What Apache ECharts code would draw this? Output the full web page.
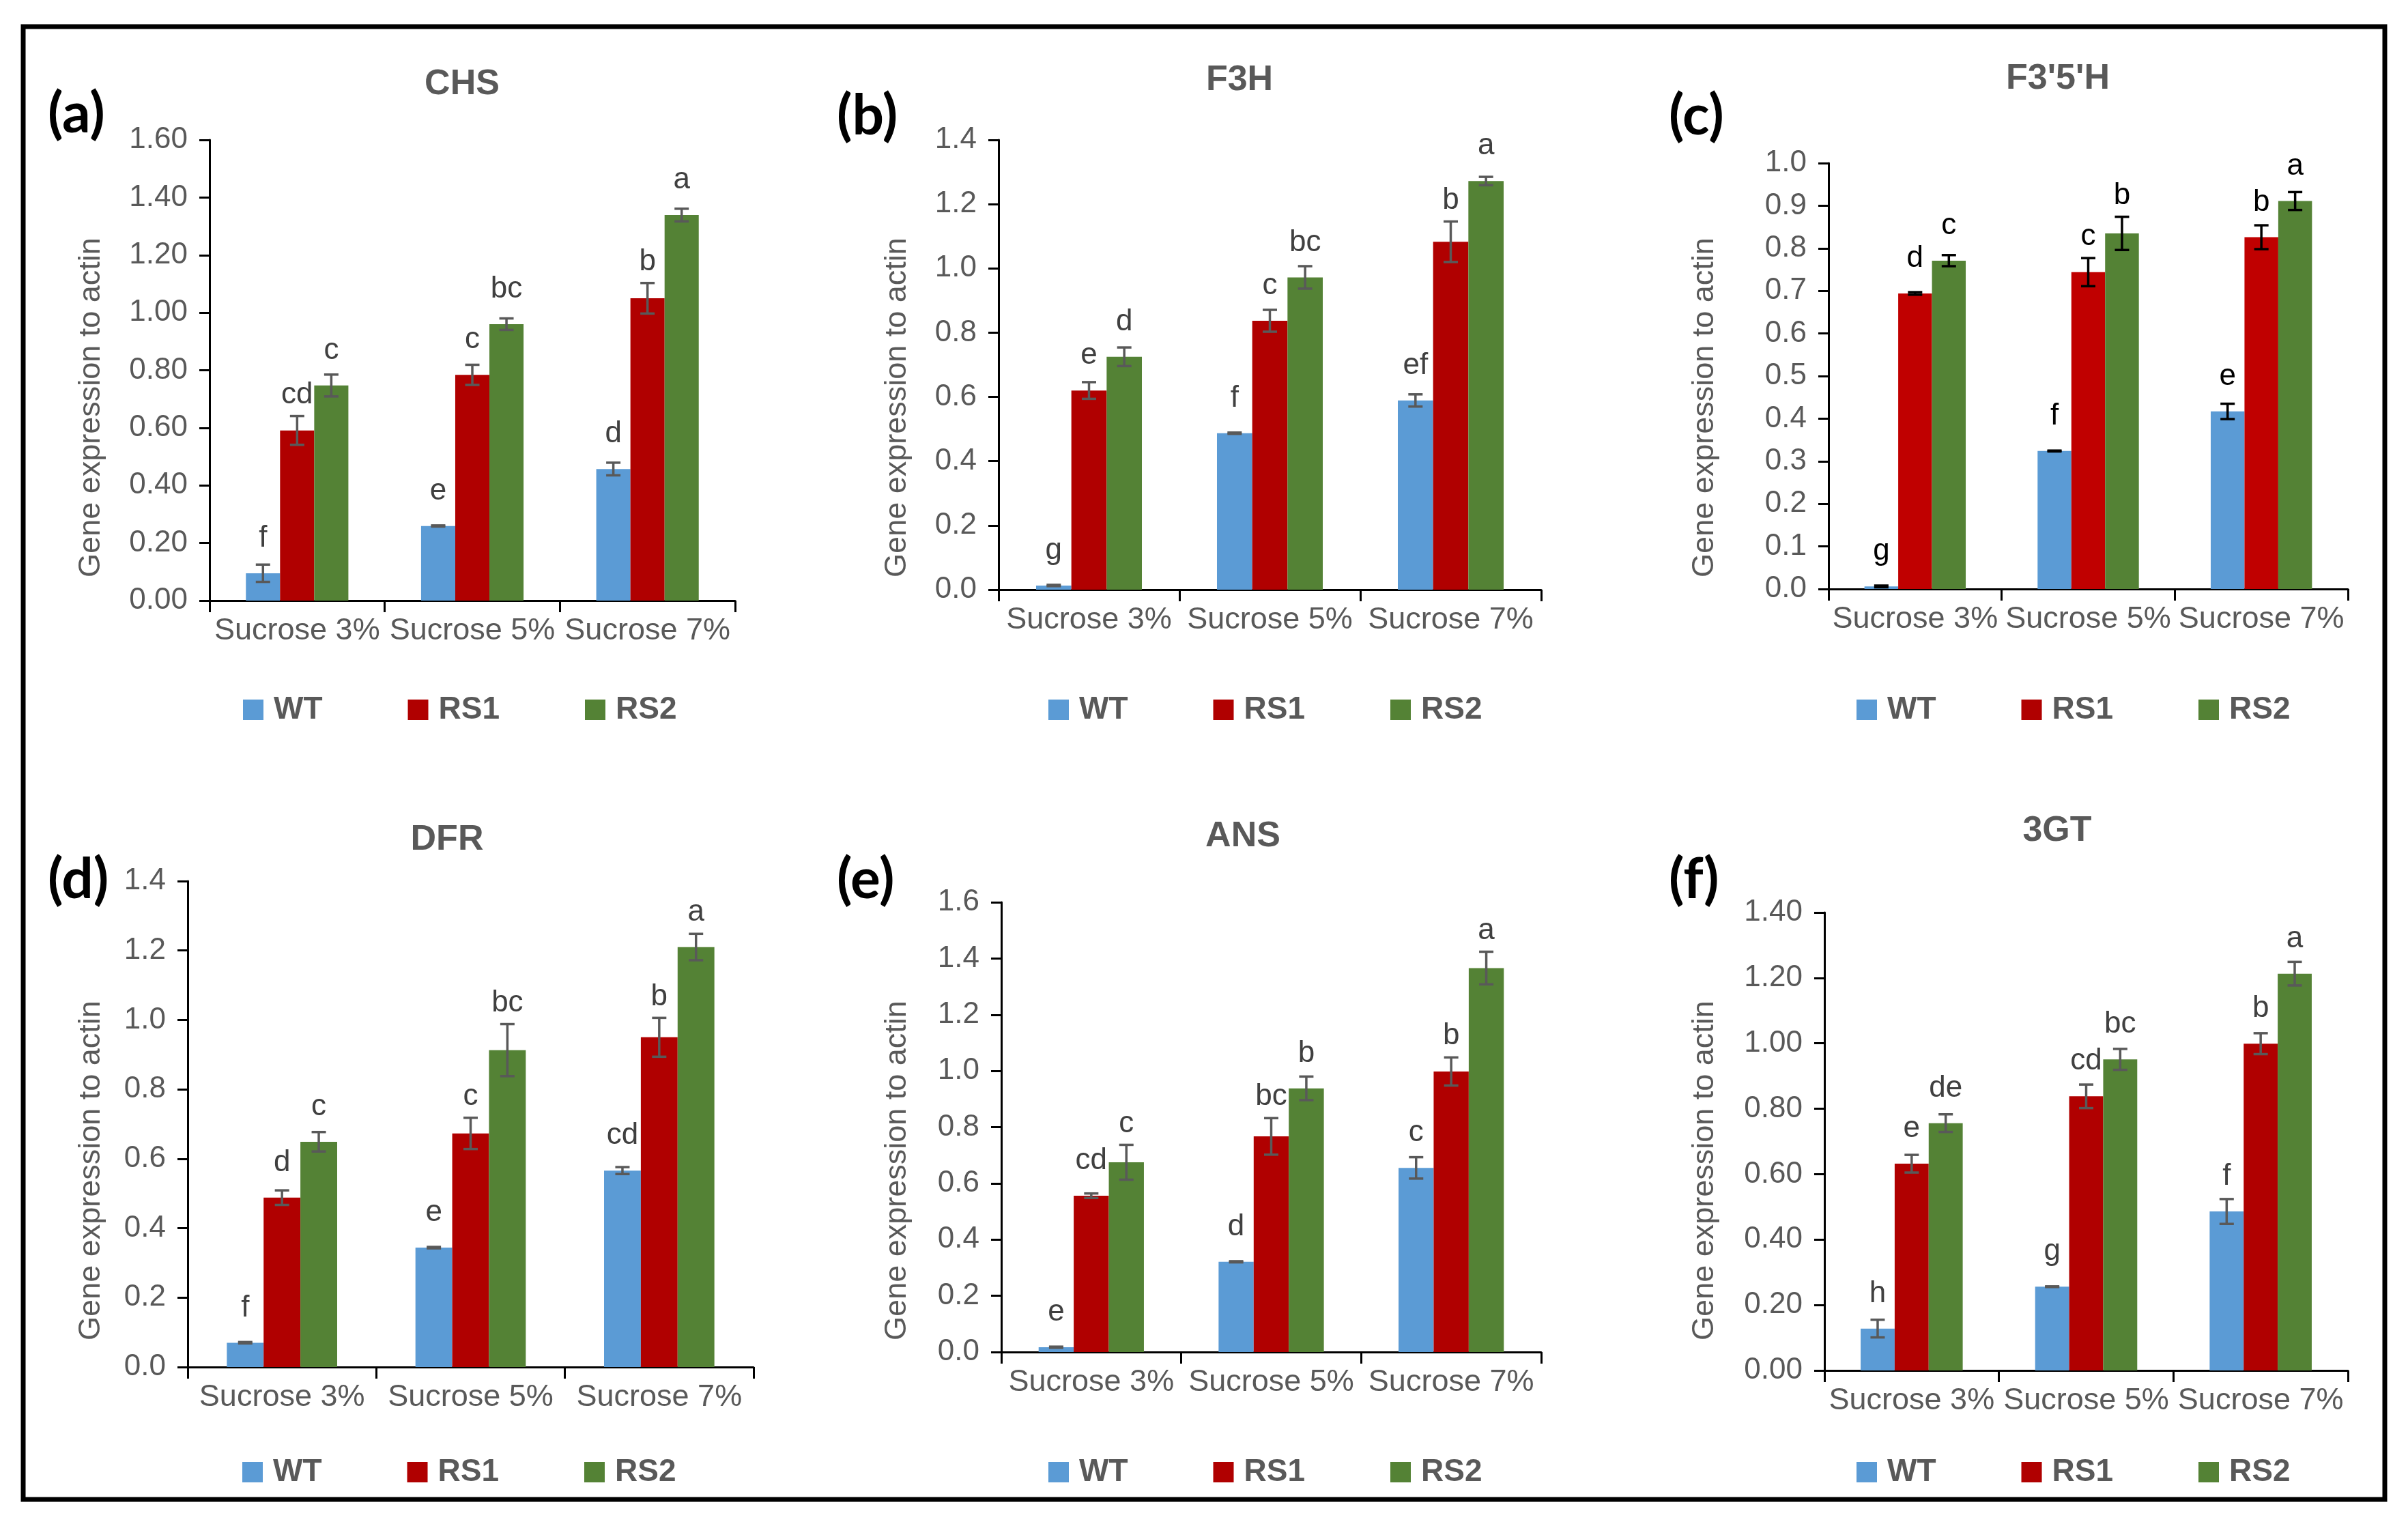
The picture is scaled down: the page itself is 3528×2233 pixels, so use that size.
<!DOCTYPE html>
<html><head><meta charset="utf-8">
<script src="https://cdn.jsdelivr.net/npm/echarts@6/dist/echarts.min.js"></script>
<style>html,body{margin:0;padding:0;background:#fff}#c{width:3528px;height:2233px}</style>
</head><body><div id="c"></div>
<script>
// ---------- DATA ----------
const categories = ['Sucrose 3%', 'Sucrose 5%', 'Sucrose 7%'];
const seriesNames = ['WT', 'RS1', 'RS2'];

// (a) CHS
const chsWT = [0.095, 0.259, 0.457];
const chsRS1 = [0.591, 0.784, 1.050];
const chsRS2 = [0.747, 0.960, 1.339];
const chsErrWT = [0.030, 0.002, 0.022];
const chsErrRS1 = [0.050, 0.035, 0.053];
const chsErrRS2 = [0.038, 0.020, 0.022];
const chsLetWT = ['f', 'e', 'd'];
const chsLetRS1 = ['cd', 'c', 'b'];
const chsLetRS2 = ['c', 'bc', 'a'];

// (b) F3H
const f3hWT = [0.013, 0.487, 0.589];
const f3hRS1 = [0.620, 0.837, 1.083];
const f3hRS2 = [0.725, 0.972, 1.272];
const f3hErrWT = [0.002, 0.002, 0.019];
const f3hErrRS1 = [0.026, 0.034, 0.063];
const f3hErrRS2 = [0.029, 0.035, 0.013];
const f3hLetWT = ['g', 'f', 'ef'];
const f3hLetRS1 = ['e', 'c', 'b'];
const f3hLetRS2 = ['d', 'bc', 'a'];

// (c) F3'5'H
const f35hWT = [0.006, 0.324, 0.417];
const f35hRS1 = [0.694, 0.744, 0.826];
const f35hRS2 = [0.771, 0.835, 0.911];
const f35hErrWT = [0.002, 0.001, 0.018];
const f35hErrRS1 = [0.003, 0.033, 0.028];
const f35hErrRS2 = [0.013, 0.039, 0.021];
const f35hLetWT = ['g', 'f', 'e'];
const f35hLetRS1 = ['d', 'c', 'b'];
const f35hLetRS2 = ['c', 'b', 'a'];

// (d) DFR
const dfrWT = [0.070, 0.344, 0.566];
const dfrRS1 = [0.488, 0.673, 0.950];
const dfrRS2 = [0.649, 0.913, 1.210];
const dfrErrWT = [0.002, 0.002, 0.010];
const dfrErrRS1 = [0.021, 0.045, 0.056];
const dfrErrRS2 = [0.028, 0.075, 0.038];
const dfrLetWT = ['f', 'e', 'cd'];
const dfrLetRS1 = ['d', 'c', 'b'];
const dfrLetRS2 = ['c', 'bc', 'a'];

// (e) ANS
const ansWT = [0.017, 0.321, 0.655];
const ansRS1 = [0.556, 0.767, 0.998];
const ansRS2 = [0.675, 0.938, 1.366];
const ansErrWT = [0.002, 0.002, 0.038];
const ansErrRS1 = [0.008, 0.065, 0.050];
const ansErrRS2 = [0.062, 0.042, 0.058];
const ansLetWT = ['e', 'd', 'c'];
const ansLetRS1 = ['cd', 'bc', 'b'];
const ansLetRS2 = ['c', 'b', 'a'];

// (f) 3GT
const gt3WT = [0.128, 0.256, 0.486];
const gt3RS1 = [0.632, 0.838, 0.999];
const gt3RS2 = [0.756, 0.951, 1.213];
const gt3ErrWT = [0.027, 0.001, 0.038];
const gt3ErrRS1 = [0.027, 0.036, 0.032];
const gt3ErrRS2 = [0.027, 0.032, 0.036];
const gt3LetWT = ['h', 'g', 'f'];
const gt3LetRS1 = ['e', 'cd', 'b'];
const gt3LetRS2 = ['de', 'bc', 'a'];

// axis tick settings
const yMaxes = [1.6, 1.4, 1.0, 1.4, 1.6, 1.4];
const yIntervals = [0.2, 0.2, 0.1, 0.2, 0.2, 0.2];
const yDecimals = [2, 1, 1, 1, 1, 2];

// ---------- LAYOUT / STYLE ----------
const FONT = '"Liberation Sans", Arial, sans-serif';
const GRAY = '#595959';
const GAP = 0.415;
const panels = [
  { tag: '(a)', gene: 'CHS', vals: [chsWT, chsRS1, chsRS2], errs: [chsErrWT, chsErrRS1, chsErrRS2], lets: [chsLetWT, chsLetRS1, chsLetRS2],
    grid: { left: 307, top: 205, width: 770, height: 675 }, title: [677, 124], tagPos: [70, 168], nameGap: 173, namePad: 109, legend: [356, 1017],
    red: '#B00000', err: '#595959', letter: '#404040' },
  { tag: '(b)', gene: 'F3H', vals: [f3hWT, f3hRS1, f3hRS2], errs: [f3hErrWT, f3hErrRS1, f3hErrRS2], lets: [f3hLetWT, f3hLetRS1, f3hLetRS2],
    grid: { left: 1463, top: 205, width: 795, height: 659 }, title: [1816, 118], tagPos: [1226, 171], nameGap: 148, namePad: 125, legend: [1536, 1017],
    red: '#B00000', err: '#595959', letter: '#404040' },
  { tag: '(c)', gene: "F3'5'H", vals: [f35hWT, f35hRS1, f35hRS2], errs: [f35hErrWT, f35hErrRS1, f35hErrRS2], lets: [f35hLetWT, f35hLetRS1, f35hLetRS2],
    grid: { left: 2679, top: 239, width: 761, height: 624 }, title: [3015, 116], tagPos: [2445, 171], nameGap: 181, namePad: 92, legend: [2720, 1017],
    red: '#C00000', err: '#000000', letter: '#000000' },
  { tag: '(d)', gene: 'DFR', vals: [dfrWT, dfrRS1, dfrRS2], errs: [dfrErrWT, dfrErrRS1, dfrErrRS2], lets: [dfrLetWT, dfrLetRS1, dfrLetRS2],
    grid: { left: 275, top: 1291, width: 829, height: 712 }, title: [655, 1231], tagPos: [70, 1290], nameGap: 141, namePad: 136, legend: [355, 2134],
    red: '#B00000', err: '#595959', letter: '#404040' },
  { tag: '(e)', gene: 'ANS', vals: [ansWT, ansRS1, ansRS2], errs: [ansErrWT, ansErrRS1, ansErrRS2], lets: [ansLetWT, ansLetRS1, ansLetRS2],
    grid: { left: 1467, top: 1322, width: 791, height: 659 }, title: [1821, 1226], tagPos: [1226, 1290], nameGap: 152, namePad: 127, legend: [1536, 2134],
    red: '#B00000', err: '#595959', letter: '#404040' },
  { tag: '(f)', gene: '3GT', vals: [gt3WT, gt3RS1, gt3RS2], errs: [gt3ErrWT, gt3ErrRS1, gt3ErrRS2], lets: [gt3LetWT, gt3LetRS1, gt3LetRS2],
    grid: { left: 2673, top: 1337, width: 767, height: 671 }, title: [3014, 1218], tagPos: [2445, 1290], nameGap: 175, namePad: 85, legend: [2720, 2134],
    red: '#B00000', err: '#595959', letter: '#404040' }
];
const blue = '#5B9BD5', green = '#548235';

const grids = [], xAxes = [], yAxes = [], series = [], legends = [], graphics = [];

panels.forEach((p, pi) => {
  const colors = [blue, p.red, green];
  grids.push(Object.assign({ containLabel: false }, p.grid));
  xAxes.push({
    type: 'category', gridIndex: pi, data: categories,
    axisLine: { show: true, lineStyle: { color: '#000', width: 3 } },
    axisTick: { show: true, length: 17, lineStyle: { color: '#000', width: 3 } },
    axisLabel: { interval: 0, fontSize: 45, color: GRAY, fontFamily: FONT, margin: 22 },
    splitLine: { show: false }
  });
  yAxes.push({
    type: 'value', gridIndex: pi, min: 0, max: yMaxes[pi], interval: yIntervals[pi],
    name: 'Gene expression to actin', nameLocation: 'middle', nameGap: p.nameGap,
    nameTextStyle: { fontSize: 45, color: GRAY, fontFamily: FONT, verticalAlign: 'middle', align: 'center', padding: [0, p.namePad, 0, 0] },
    axisLine: { show: true, lineStyle: { color: '#000', width: 3 } },
    axisTick: { show: true, length: 15, lineStyle: { color: '#000', width: 3 } },
    axisLabel: { fontSize: 44, color: GRAY, fontFamily: FONT, margin: 32, formatter: v => v.toFixed(yDecimals[pi]) },
    splitLine: { show: false }
  });
  seriesNames.forEach((sn, si) => {
    series.push({
      type: 'bar', name: sn, xAxisIndex: pi, yAxisIndex: pi, data: p.vals[si],
      barGap: '0%', barCategoryGap: (GAP * 100) + '%',
      itemStyle: { color: colors[si] }, emphasis: { disabled: true }, z: 2
    });
  });
  seriesNames.forEach((sn, si) => {
    const letters = p.lets[si];
    series.push({
      type: 'custom', name: sn + ' error', xAxisIndex: pi, yAxisIndex: pi, z: 5,
      data: p.vals[si].map((v, i) => [i, v, p.errs[si][i]]),
      encode: { x: 0, y: 1 },
      renderItem: (params, api) => {
        const ci = api.value(0), v = api.value(1), e = api.value(2);
        const catW = api.size([1, 0])[0];
        const barW = catW * (1 - GAP) / 3;
        const base = api.coord([ci, v]);
        const cx = base[0] + (si - 1) * barW;
        const yBar = base[1];
        const yT = api.coord([ci, v + e])[1];
        const yB = api.coord([ci, v - e])[1];
        const cap = 10.5;
        const st = { stroke: p.err, lineWidth: 3.5 };
        const baseline = Math.min(yBar - 36, yT - 16);
        return {
          type: 'group', children: [
            { type: 'line', shape: { x1: cx, y1: yT, x2: cx, y2: yB }, style: st },
            { type: 'line', shape: { x1: cx - cap, y1: yT, x2: cx + cap, y2: yT }, style: st },
            { type: 'line', shape: { x1: cx - cap, y1: yB, x2: cx + cap, y2: yB }, style: st },
            { type: 'text', x: cx, y: baseline + 7, style: { text: letters[params.dataIndex], fill: p.letter, font: '44px ' + FONT, align: 'center', verticalAlign: 'bottom' } }
          ]
        };
      }
    });
  });
  legends.push({
    data: seriesNames, left: p.legend[0], top: p.legend[1], orient: 'horizontal', padding: 0,
    itemWidth: 30, itemHeight: 30, itemGap: 125, icon: 'rect', selectedMode: false,
    textStyle: { fontSize: 46, fontWeight: 'bold', color: GRAY, fontFamily: FONT, padding: [0, 0, 0, 10] }
  });
  graphics.push({
    type: 'text', x: p.title[0], y: p.title[1],
    style: { text: p.gene, font: 'bold 52px ' + FONT, fill: GRAY, align: 'center', verticalAlign: 'middle' }
  });
  graphics.push({
    type: 'text', x: p.tagPos[0], y: p.tagPos[1],
    style: { text: p.tag, font: 'bold 82px Lato, "Liberation Sans", sans-serif', fill: '#000', align: 'left', verticalAlign: 'middle' }
  });
});

graphics.push({
  type: 'rect', shape: { x: 34, y: 39, width: 3460, height: 2158 },
  style: { fill: 'none', stroke: '#000', lineWidth: 7 }, silent: true
});

const chart = echarts.init(document.getElementById('c'), null, { renderer: 'canvas' });
chart.setOption({
  backgroundColor: '#fff',
  animation: false,
  grid: grids, xAxis: xAxes, yAxis: yAxes, series: series, legend: legends,
  graphic: graphics, tooltip: { show: false }
});
</script></body></html>
